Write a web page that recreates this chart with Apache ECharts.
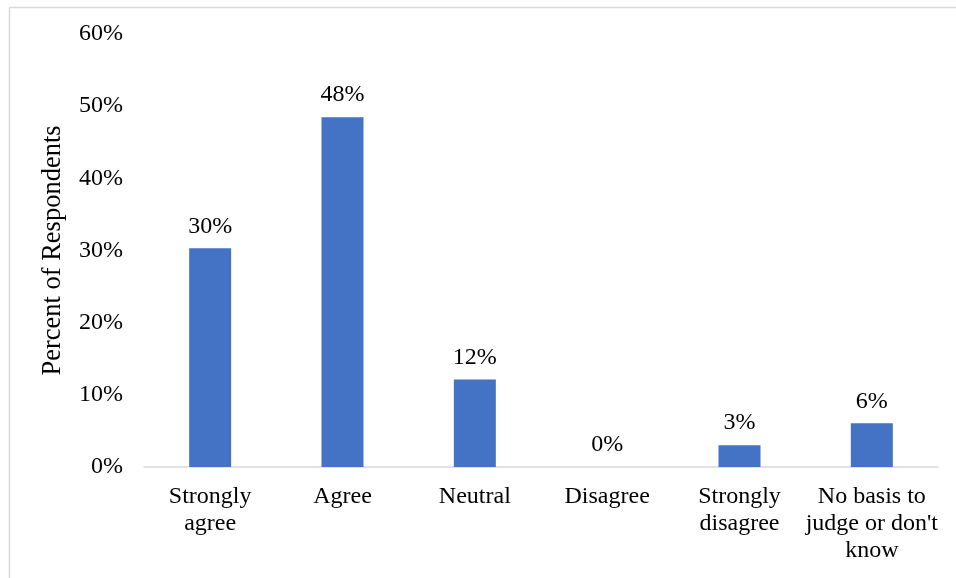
<!DOCTYPE html>
<html><head><meta charset="utf-8">
<script src="https://cdn.jsdelivr.net/npm/echarts@6/dist/echarts.min.js"></script>
<style>html,body{margin:0;padding:0;background:#fff}#c{width:956px;height:578px}</style>
</head><body><div id="c"></div>
<script>
var categories = ['Strongly\nagree', 'Agree', 'Neutral', 'Disagree', 'Strongly\ndisagree', "No basis to\njudge or don't\nknow"];
var values = [30.30, 48.48, 12.12, 0, 3.03, 6.06];
var yTicks = [0, 10, 20, 30, 40, 50, 60];

var font = '"Liberation Serif", "Times New Roman", serif';
var chart = echarts.init(document.getElementById('c'), null, {renderer: 'canvas'});
chart.setOption({
  animation: false,
  backgroundColor: '#fff',
  graphic: [{
    type: 'rect', left: 7, top: 5, shape: {width: 1000, height: 700},
    style: {fill: 'none', stroke: '#d9d9d9', lineWidth: 1.5}, silent: true
  }],
  grid: {left: 144, right: 18, top: 34, bottom: 111, containLabel: false},
  xAxis: {
    type: 'category', data: categories,
    axisLine: {lineStyle: {color: '#d9d9d9', width: 1.5}},
    axisTick: {show: false},
    axisLabel: {color: '#000', fontFamily: font, fontSize: 24, lineHeight: 27, margin: 16, interval: 0}
  },
  yAxis: {
    type: 'value', min: yTicks[0], max: yTicks[yTicks.length - 1], interval: 10,
    name: 'Percent of Respondents', nameLocation: 'middle', nameRotate: 90, nameGap: 77,
    nameTextStyle: {color: '#000', fontFamily: font, fontSize: 26.5},
    axisLine: {show: false}, axisTick: {show: false}, splitLine: {show: false},
    axisLabel: {color: '#000', fontFamily: font, fontSize: 24, margin: 21, formatter: function (v) { return v + '%'; }}
  },
  series: [{
    type: 'bar', data: values, barWidth: 42,
    itemStyle: {color: '#4472C4'},
    label: {show: true, position: 'top', distance: 10, color: '#000', fontFamily: font, fontSize: 24,
      formatter: function (p) { return Math.round(p.value) + '%'; }}
  }]
});
</script></body></html>
